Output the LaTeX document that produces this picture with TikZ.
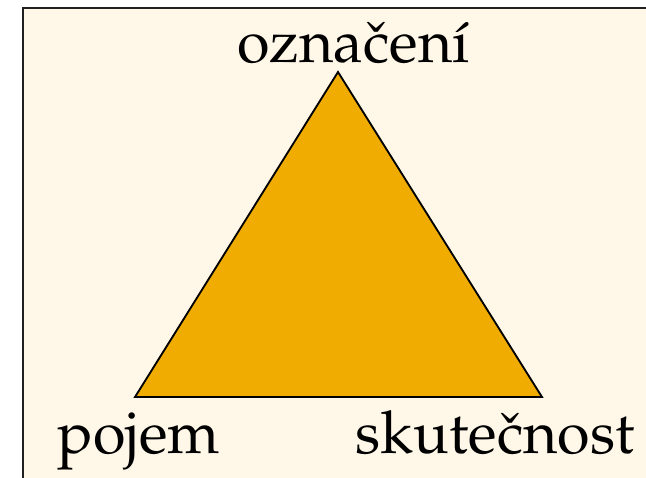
\documentclass[tikz,border=0pt]{standalone}
\usepackage[T1]{fontenc}
\usepackage{mathpazo}
\usepackage{tikz}
\usetikzlibrary{positioning}
\definecolor{triCream}{HTML}{FFF8E8}
\definecolor{triGold}{HTML}{F0AC00}
\definecolor{triFrame}{HTML}{202020}
\tikzset{
  triframe/.style={draw=triFrame,line width=0.85pt,fill=triCream},
  triface/.style={draw=black,line width=1.05pt,fill=triGold,line join=miter},
  trilabel/.style={font=\fontsize{33.7}{40}\selectfont,inner sep=0pt,anchor=base}
}
\begin{document}
\begin{tikzpicture}[x=0.02cm,y=-0.02cm]
    \useasboundingbox (0,0) rectangle (646,477);
    \begin{scope}
      \clip (0,0) rectangle (646,477);
      \path[triframe] (23,8) rectangle (700,520);
    \end{scope}

    \coordinate (top) at (338,72);
    \coordinate (left) at (135,397);
    \coordinate (right) at (542,397);
    \path[triface] (top) -- (left) -- (right) -- cycle;

    \node[trilabel] (sign) at (353.5,62) {ozna\v{c}en\'{\i}};
    \node[trilabel] (concept) at (139,453) {pojem};
    \node[trilabel] (reality) at (495,453) {skute\v{c}nost};
  \end{tikzpicture}
\end{document}
